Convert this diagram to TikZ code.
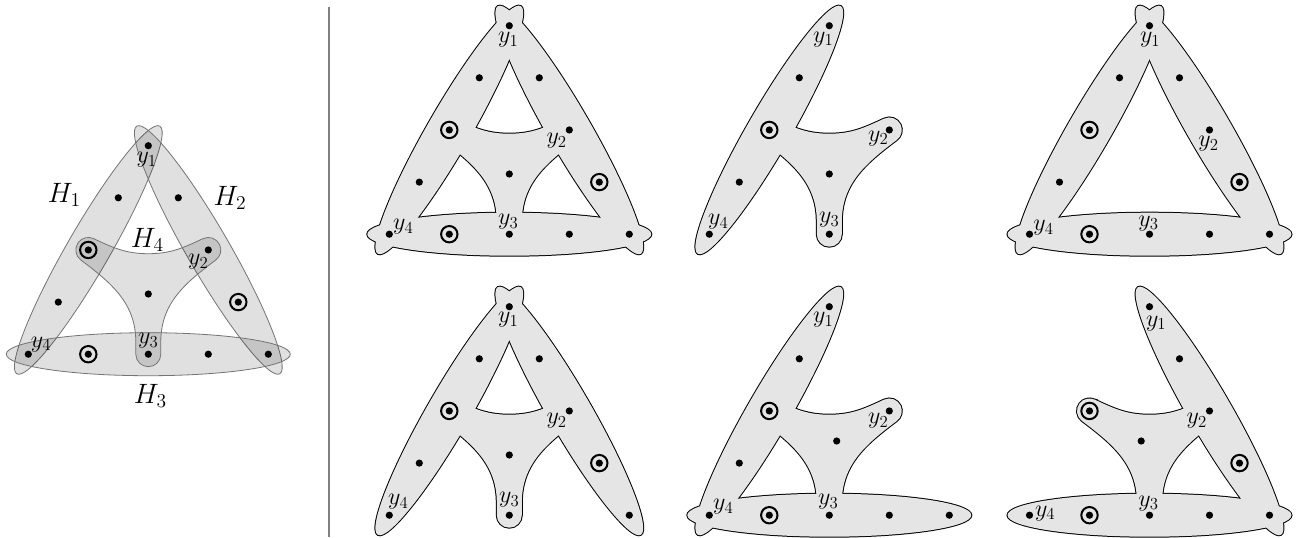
\RequirePackage{fix-cm}
\documentclass[tikz,border=0pt]{standalone}
\usetikzlibrary{topaths}
\newcommand\HA[1]{\path[#1,rotate around={60:(-60,-104.25)}] (-60,-104.25) ellipse[x radius=143,y radius=21.5];}
\newcommand\HB[1]{\path[#1,rotate around={-60:(60,-104.25)}] (60,-104.25) ellipse[x radius=143,y radius=21.5];}
\newcommand\HC[1]{\path[#1] (0,-208.5) ellipse[x radius=142,y radius=21.5];}
\newcommand\HD[1]{\path[#1] (-54.72,-92.92) to[out=-25,in=180] (0,-108) to[out=0,in=205] (54.72,-92.92)
  arc[start angle=115,end angle=-53,radius=12.5] to[out=217,in=90] (12.5,-196) -- (12.5,-208.5)
  arc[start angle=0,end angle=-180,radius=12.5] -- (-12.5,-196) to[out=90,in=-37] (-67.52,-114.23)
  arc[start angle=233,end angle=65,radius=12.5] -- cycle;}
\newcommand\vd[2]{\fill (#1,#2) circle[radius=3.6];}
\newcommand\cd[2]{\fill (#1,#2) circle[radius=3.6]; \draw[line width=1.5pt] (#1,#2) circle[radius=8.2];}
\newcommand\lab[3]{\node[ylab] at (#1,#2) {$y_{#3}$};}
\begin{document}
\begin{tikzpicture}[x=0.75pt,y=0.75pt,
  ylab/.style={inner sep=0pt,font=\fontsize{18}{21}\selectfont},
  hlab/.style={inner sep=0pt,font=\fontsize{21}{25}\selectfont},
  uline/.style={draw=black,line width=1.5pt},
  ufill/.style={fill=black!10},
  lshape/.style={fill=black,fill opacity=0.12,draw=black!55,draw opacity=1,line width=0.6pt}]
\useasboundingbox (0,0) rectangle (1297,-537);
% separator
\draw[black!50,line width=1.5pt] (328.7,-7) -- (328.7,-537);
% ---------- left figure ----------
\begin{scope}[shift={(148.3,-145.7)}]
  \HA{lshape}\HB{lshape}\HC{lshape}\HD{lshape}
  \vd{0}{0}\vd{-30}{-52.1}\vd{30}{-52.1}\cd{-60}{-104.25}\vd{60}{-104.25}\vd{0}{-148.3}
  \vd{-90}{-156.4}\cd{90}{-156.4}\vd{-120}{-208.5}\cd{-60}{-208.5}\vd{0}{-208.5}\vd{60}{-208.5}\vd{120}{-208.5}
  \lab{-1.6}{-14.3}{1}\lab{50}{-116}{2}\lab{0}{-195.2}{3}\lab{-107.3}{-198.5}{4}
  \node[hlab] (h1) at (-84,-49.3) {$H_1$};
  \node[hlab] (h2) at (81.7,-52) {$H_2$};
  \node[hlab] (h4) at (-1,-94) {$H_4$};
  \node[hlab] (h3) at (2,-250) {$H_3$};
\end{scope}
% ---------- top left: H1 H2 H3 H4 ----------
\begin{scope}[shift={(509.3,-25.7)}]
  \HA{uline}\HB{uline}\HC{uline}\HD{uline}
  \HA{ufill}\HB{ufill}\HC{ufill}\HD{ufill}
  \vd{0}{0}\vd{-30}{-52.1}\vd{30}{-52.1}\cd{-60}{-104.25}\vd{60}{-104.25}\vd{0}{-148.3}
  \vd{-90}{-156.4}\cd{90}{-156.4}\vd{-120}{-208.5}\cd{-60}{-208.5}\vd{0}{-208.5}\vd{60}{-208.5}\vd{120}{-208.5}
  \lab{-1}{-14.3}{1}\lab{47.4}{-115}{2}\lab{-1}{-195.9}{3}\lab{-106}{-200.9}{4}
\end{scope}
% ---------- top middle: H1 H4 ----------
\begin{scope}[shift={(829.3,-25.7)}]
  \HA{uline}\HD{uline}
  \HA{ufill}\HD{ufill}
  \vd{0}{0}\vd{-30}{-52.1}\cd{-60}{-104.25}\vd{60}{-104.25}\vd{0}{-148.3}
  \vd{-90}{-156.4}\vd{-120}{-208.5}\vd{0}{-208.5}
  \lab{-6}{-13.6}{1}\lab{49}{-112.6}{2}\lab{0}{-194.2}{3}\lab{-111}{-195.9}{4}
\end{scope}
% ---------- top right: H1 H2 H3 ----------
\begin{scope}[shift={(1149.5,-25.7)}]
  \HA{uline}\HB{uline}\HC{uline}
  \HA{ufill}\HB{ufill}\HC{ufill}
  \vd{0}{0}\vd{-30}{-52.1}\vd{30}{-52.1}\cd{-60}{-104.25}\vd{60}{-104.25}
  \vd{-90}{-156.4}\cd{90}{-156.4}\vd{-120}{-208.5}\cd{-60}{-208.5}\vd{0}{-208.5}\vd{60}{-208.5}\vd{120}{-208.5}
  \lab{0.7}{-14.3}{1}\lab{59}{-118.3}{2}\lab{-1}{-197.5}{3}\lab{-106}{-201.9}{4}
\end{scope}
% ---------- bottom left: H1 H2 H4 ----------
\begin{scope}[shift={(509.3,-306.7)}]
  \HA{uline}\HB{uline}\HD{uline}
  \HA{ufill}\HB{ufill}\HD{ufill}
  \vd{0}{0}\vd{-30}{-52.1}\vd{30}{-52.1}\cd{-60}{-104.25}\vd{60}{-104.25}\vd{0}{-148.3}
  \vd{-90}{-156.4}\cd{90}{-156.4}\vd{-120}{-208.5}\vd{0}{-208.5}\vd{120}{-208.5}
  \lab{-1}{-13.3}{1}\lab{47.4}{-114}{2}\lab{0}{-193.2}{3}\lab{-111}{-195.2}{4}
\end{scope}
% ---------- bottom middle: H1 H3 H4 ----------
\begin{scope}[shift={(829.3,-306.7)}]
  \HA{uline}\HC{uline}\HD{uline}
  \HA{ufill}\HC{ufill}\HD{ufill}
  \vd{0}{0}\vd{-30}{-52.1}\cd{-60}{-104.25}\vd{60}{-104.25}\vd{7.4}{-134.3}
  \vd{-90}{-156.4}\vd{-120}{-208.5}\cd{-60}{-208.5}\vd{0}{-208.5}\vd{60}{-208.5}\vd{120}{-208.5}
  \lab{-6}{-13.3}{1}\lab{49}{-114}{2}\lab{-1}{-195.2}{3}\lab{-106}{-200.2}{4}
\end{scope}
% ---------- bottom right: H2 H3 H4 ----------
\begin{scope}[shift={(1149.5,-306.7)}]
  \HB{uline}\HC{uline}\HD{uline}
  \HB{ufill}\HC{ufill}\HD{ufill}
  \vd{0}{0}\vd{30}{-52.1}\cd{-60}{-104.25}\vd{60}{-104.25}\vd{-8.3}{-134.3}
  \cd{90}{-156.4}\vd{-120}{-208.5}\cd{-60}{-208.5}\vd{0}{-208.5}\vd{60}{-208.5}\vd{120}{-208.5}
  \lab{6.7}{-16.6}{1}\lab{47.4}{-114}{2}\lab{-1}{-196.8}{3}\lab{-104.3}{-206.8}{4}
\end{scope}
\end{tikzpicture}
\end{document}
